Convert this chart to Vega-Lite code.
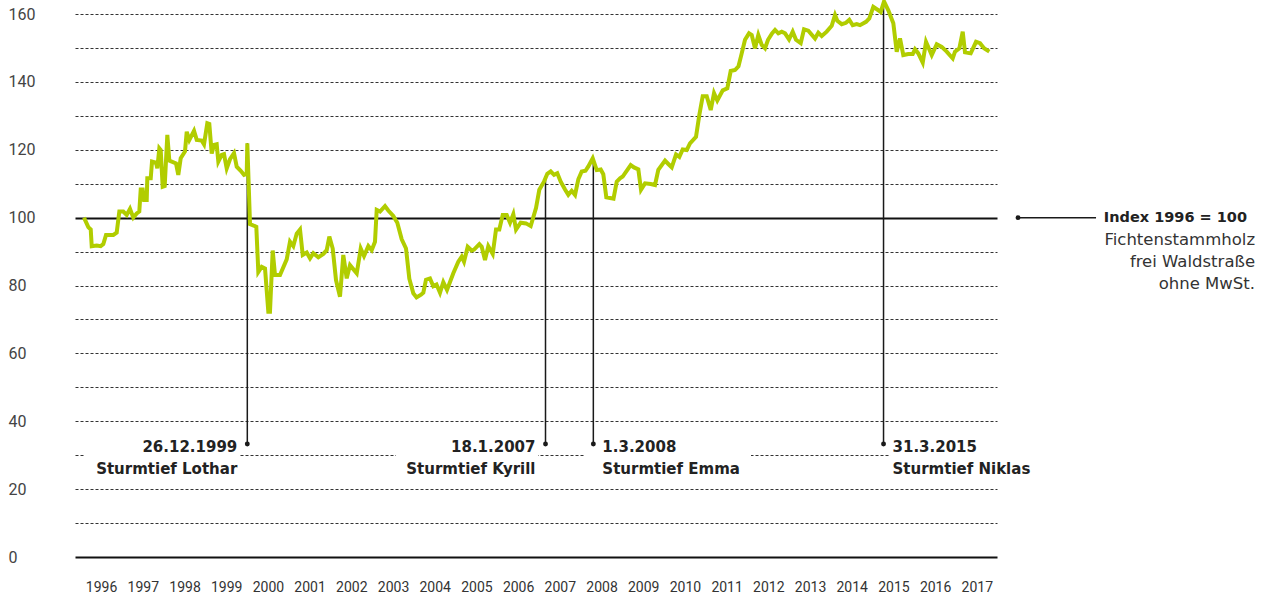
{
  "$schema": "https://vega.github.io/schema/vega-lite/v6.json",
  "width": 922,
  "height": 543,
  "autosize": {"type": "none"},
  "padding": {"left": 75, "top": 14, "right": 267, "bottom": 41},
  "background": "white",
  "config": {
    "view": {"stroke": null},
    "axisX": {"title": null, "domain": false, "ticks": false, "grid": false, "labelFont": "Roboto", "labelFontSize": 14, "labelColor": "#333", "labelPadding": 30, "labelBaseline": "middle", "labelOverlap": false, "labelFlush": false},
    "axisY": {"title": null, "domain": false, "ticks": false, "labelAlign": "left", "labelPadding": 67, "labelBaseline": "middle", "labelFont": "Roboto", "labelFontSize": 16, "labelColor": "#444", "labelOverlap": false, "grid": true}
  },
  "datasets": {
    "index": [
      {"t": 1996.000, "v": 100}, {"t": 1996.103, "v": 97.2}, {"t": 1996.161, "v": 96.5}, {"t": 1996.185, "v": 91.6},
      {"t": 1996.305, "v": 91.8}, {"t": 1996.400, "v": 91.6}, {"t": 1996.463, "v": 92.2}, {"t": 1996.528, "v": 94.9},
      {"t": 1996.703, "v": 94.9}, {"t": 1996.784, "v": 95.6}, {"t": 1996.847, "v": 101.8}, {"t": 1996.942, "v": 101.8},
      {"t": 1997.024, "v": 100.8}, {"t": 1997.103, "v": 102.6}, {"t": 1997.182, "v": 100}, {"t": 1997.264, "v": 101.2},
      {"t": 1997.326, "v": 101.8}, {"t": 1997.360, "v": 108.3}, {"t": 1997.408, "v": 108.3}, {"t": 1997.439, "v": 105.2},
      {"t": 1997.504, "v": 105.2}, {"t": 1997.518, "v": 111.6}, {"t": 1997.600, "v": 111.6}, {"t": 1997.631, "v": 116.5},
      {"t": 1997.727, "v": 116.2}, {"t": 1997.758, "v": 114.5}, {"t": 1997.806, "v": 120.4}, {"t": 1997.839, "v": 119.9},
      {"t": 1997.887, "v": 109.1}, {"t": 1997.935, "v": 109.3}, {"t": 1997.998, "v": 124.4}, {"t": 1998.046, "v": 116.8},
      {"t": 1998.206, "v": 116}, {"t": 1998.261, "v": 112.6}, {"t": 1998.319, "v": 117.5}, {"t": 1998.422, "v": 119.5},
      {"t": 1998.463, "v": 125.3}, {"t": 1998.525, "v": 122.9}, {"t": 1998.638, "v": 125.6}, {"t": 1998.703, "v": 122.9},
      {"t": 1998.823, "v": 122.7}, {"t": 1998.878, "v": 121.6}, {"t": 1998.957, "v": 127.8}, {"t": 1999.005, "v": 127.6},
      {"t": 1999.062, "v": 118.9}, {"t": 1999.118, "v": 121.4}, {"t": 1999.182, "v": 121.6}, {"t": 1999.221, "v": 116.5},
      {"t": 1999.302, "v": 118.5}, {"t": 1999.357, "v": 118.7}, {"t": 1999.422, "v": 114.5}, {"t": 1999.501, "v": 117.2},
      {"t": 1999.597, "v": 119}, {"t": 1999.662, "v": 115}, {"t": 1999.758, "v": 113.8}, {"t": 1999.837, "v": 112.6},
      {"t": 1999.902, "v": 112.9}, {"t": 1999.916, "v": 121.9}, {"t": 1999.981, "v": 98.1}, {"t": 2000.132, "v": 97.3},
      {"t": 2000.180, "v": 84}, {"t": 2000.261, "v": 85.5}, {"t": 2000.341, "v": 85}, {"t": 2000.420, "v": 72.3},
      {"t": 2000.460, "v": 72.3}, {"t": 2000.525, "v": 90.3}, {"t": 2000.580, "v": 83.1}, {"t": 2000.700, "v": 83.1},
      {"t": 2000.861, "v": 87.7}, {"t": 2000.940, "v": 92.9}, {"t": 2001.019, "v": 91.6}, {"t": 2001.101, "v": 95.3},
      {"t": 2001.180, "v": 96.5}, {"t": 2001.245, "v": 89}, {"t": 2001.341, "v": 89.7}, {"t": 2001.420, "v": 88},
      {"t": 2001.499, "v": 89.5}, {"t": 2001.619, "v": 88.3}, {"t": 2001.739, "v": 89.3}, {"t": 2001.820, "v": 90.4},
      {"t": 2001.883, "v": 94.4}, {"t": 2001.964, "v": 90.9}, {"t": 2002.043, "v": 81.6}, {"t": 2002.139, "v": 76.7},
      {"t": 2002.218, "v": 89}, {"t": 2002.300, "v": 82.1}, {"t": 2002.379, "v": 86}, {"t": 2002.540, "v": 83.6},
      {"t": 2002.636, "v": 90.9}, {"t": 2002.715, "v": 88.7}, {"t": 2002.818, "v": 91.6}, {"t": 2002.899, "v": 90.4},
      {"t": 2002.978, "v": 92.9}, {"t": 2003.019, "v": 102.3}, {"t": 2003.098, "v": 101.8}, {"t": 2003.218, "v": 103.4},
      {"t": 2003.297, "v": 102.1}, {"t": 2003.417, "v": 100.5}, {"t": 2003.513, "v": 98.5}, {"t": 2003.619, "v": 93.6},
      {"t": 2003.722, "v": 90.9}, {"t": 2003.801, "v": 82}, {"t": 2003.897, "v": 77.7}, {"t": 2003.974, "v": 76.5},
      {"t": 2004.082, "v": 77.3}, {"t": 2004.137, "v": 77.9}, {"t": 2004.201, "v": 81.7}, {"t": 2004.297, "v": 82.1},
      {"t": 2004.376, "v": 79.8}, {"t": 2004.453, "v": 80.3}, {"t": 2004.537, "v": 77.9}, {"t": 2004.616, "v": 81},
      {"t": 2004.705, "v": 78.7}, {"t": 2004.856, "v": 83.6}, {"t": 2004.976, "v": 87}, {"t": 2005.058, "v": 88.5},
      {"t": 2005.113, "v": 87}, {"t": 2005.201, "v": 91.4}, {"t": 2005.297, "v": 90.3}, {"t": 2005.353, "v": 90.6},
      {"t": 2005.480, "v": 92.2}, {"t": 2005.537, "v": 91.4}, {"t": 2005.616, "v": 87.5}, {"t": 2005.695, "v": 91.6},
      {"t": 2005.801, "v": 89.3}, {"t": 2005.880, "v": 96.5}, {"t": 2005.959, "v": 96.5}, {"t": 2006.041, "v": 100.8},
      {"t": 2006.137, "v": 100.8}, {"t": 2006.216, "v": 98.5}, {"t": 2006.295, "v": 101}, {"t": 2006.360, "v": 96.5},
      {"t": 2006.472, "v": 98.5}, {"t": 2006.600, "v": 98.3}, {"t": 2006.712, "v": 97.5}, {"t": 2006.839, "v": 102.8},
      {"t": 2006.918, "v": 108.2}, {"t": 2007.031, "v": 110.6}, {"t": 2007.110, "v": 112.9}, {"t": 2007.192, "v": 113.6},
      {"t": 2007.271, "v": 112.6}, {"t": 2007.350, "v": 113.1}, {"t": 2007.432, "v": 110.6}, {"t": 2007.535, "v": 108.3},
      {"t": 2007.614, "v": 106.7}, {"t": 2007.695, "v": 107.9}, {"t": 2007.775, "v": 106.7}, {"t": 2007.854, "v": 111.3},
      {"t": 2007.935, "v": 113.6}, {"t": 2008.026, "v": 113.8}, {"t": 2008.094, "v": 115.1}, {"t": 2008.199, "v": 117.5},
      {"t": 2008.295, "v": 114}, {"t": 2008.391, "v": 114.2}, {"t": 2008.453, "v": 112.8}, {"t": 2008.525, "v": 106},
      {"t": 2008.614, "v": 105.8}, {"t": 2008.698, "v": 105.6}, {"t": 2008.775, "v": 110.6}, {"t": 2008.854, "v": 111.6},
      {"t": 2008.918, "v": 112.1}, {"t": 2009.110, "v": 115.5}, {"t": 2009.189, "v": 114.8}, {"t": 2009.293, "v": 114.2},
      {"t": 2009.357, "v": 108.2}, {"t": 2009.453, "v": 110.1}, {"t": 2009.590, "v": 109.9}, {"t": 2009.693, "v": 109.6},
      {"t": 2009.772, "v": 114.1}, {"t": 2009.933, "v": 116.8}, {"t": 2010.012, "v": 115.8}, {"t": 2010.094, "v": 114.8},
      {"t": 2010.197, "v": 118.6}, {"t": 2010.276, "v": 117.9}, {"t": 2010.357, "v": 120.1}, {"t": 2010.453, "v": 119.9},
      {"t": 2010.532, "v": 121.9}, {"t": 2010.676, "v": 123.8}, {"t": 2010.755, "v": 130.2}, {"t": 2010.837, "v": 135.8},
      {"t": 2010.933, "v": 135.8}, {"t": 2011.029, "v": 131.7}, {"t": 2011.108, "v": 136.7}, {"t": 2011.187, "v": 134.5},
      {"t": 2011.317, "v": 137.5}, {"t": 2011.427, "v": 138.1}, {"t": 2011.508, "v": 143.2}, {"t": 2011.612, "v": 143.5},
      {"t": 2011.695, "v": 144.6}, {"t": 2011.772, "v": 148.4}, {"t": 2011.851, "v": 152.4}, {"t": 2011.947, "v": 154.3},
      {"t": 2012.012, "v": 153.8}, {"t": 2012.091, "v": 149.9}, {"t": 2012.170, "v": 153.8}, {"t": 2012.252, "v": 150.9},
      {"t": 2012.331, "v": 149.9}, {"t": 2012.403, "v": 152.4}, {"t": 2012.499, "v": 154.3}, {"t": 2012.571, "v": 155.3},
      {"t": 2012.650, "v": 154.3}, {"t": 2012.732, "v": 154.8}, {"t": 2012.811, "v": 154.3}, {"t": 2012.907, "v": 152.5},
      {"t": 2012.995, "v": 154.8}, {"t": 2013.074, "v": 152.4}, {"t": 2013.187, "v": 151.4}, {"t": 2013.266, "v": 155.5},
      {"t": 2013.369, "v": 155.1}, {"t": 2013.530, "v": 152.8}, {"t": 2013.609, "v": 154.5}, {"t": 2013.691, "v": 153.5},
      {"t": 2013.810, "v": 154.8}, {"t": 2013.930, "v": 156.5}, {"t": 2014.010, "v": 159.7}, {"t": 2014.065, "v": 158},
      {"t": 2014.170, "v": 157}, {"t": 2014.273, "v": 157.4}, {"t": 2014.353, "v": 158.3}, {"t": 2014.434, "v": 156.7},
      {"t": 2014.530, "v": 157}, {"t": 2014.609, "v": 156.7}, {"t": 2014.753, "v": 157.7}, {"t": 2014.832, "v": 158.7},
      {"t": 2014.928, "v": 162.1}, {"t": 2015.048, "v": 161.1}, {"t": 2015.106, "v": 160.6}, {"t": 2015.185, "v": 163.7},
      {"t": 2015.288, "v": 161.1}, {"t": 2015.408, "v": 157.3}, {"t": 2015.489, "v": 148.9}, {"t": 2015.568, "v": 152.8},
      {"t": 2015.647, "v": 147.9}, {"t": 2015.767, "v": 148.2}, {"t": 2015.873, "v": 148.2}, {"t": 2015.928, "v": 149.6},
      {"t": 2016.007, "v": 148.4}, {"t": 2016.113, "v": 145.7}, {"t": 2016.192, "v": 151.8}, {"t": 2016.329, "v": 147.9},
      {"t": 2016.449, "v": 151.1}, {"t": 2016.568, "v": 150.3}, {"t": 2016.688, "v": 148.9}, {"t": 2016.832, "v": 146.9},
      {"t": 2016.887, "v": 148.9}, {"t": 2016.991, "v": 149.9}, {"t": 2017.072, "v": 154.8}, {"t": 2017.127, "v": 148.7},
      {"t": 2017.264, "v": 148.4}, {"t": 2017.391, "v": 151.8}, {"t": 2017.487, "v": 151.4}, {"t": 2017.583, "v": 149.9},
      {"t": 2017.710, "v": 148.9}
    ],
    "events": [
      {"t": 1999.916, "top": 121.9, "date": "26.12.1999", "name": "Sturmtief Lothar"},
      {"t": 2007.067, "top": 111.6, "date": "18.1.2007", "name": "Sturmtief Kyrill"},
      {"t": 2008.214, "top": 117.0, "date": "1.3.2008", "name": "Sturmtief Emma"},
      {"t": 2015.173, "top": 163.2, "date": "31.3.2015", "name": "Sturmtief Niklas"}
    ],
    "masks": [
      {"t": 1996.0, "t2": 1999.717},
      {"t": 2003.482, "t2": 2006.887},
      {"t": 2008.014, "t2": 2011.995},
      {"t": 2015.329, "t2": 2018.0}
    ]
  },
  "layer": [
    {
      "data": {"name": "index"},
      "mark": {"type": "line", "color": "#b1cd00", "strokeWidth": 4, "clip": false, "opacity": 0},
      "encoding": {
        "x": {"field": "t", "type": "quantitative", "title": null,
          "scale": {"domain": [1995.784, 2017.894], "nice": false, "zero": false},
          "axis": {"values": [1996.41, 1997.41, 1998.41, 1999.41, 2000.41, 2001.41, 2002.41, 2003.41, 2004.41, 2005.41, 2006.41, 2007.41, 2008.41, 2009.41, 2010.41, 2011.41, 2012.41, 2013.41, 2014.41, 2015.41, 2016.41, 2017.41], "labelExpr": "'' + floor(datum.value)"}},
        "y": {"field": "v", "type": "quantitative", "title": null,
          "scale": {"domain": [0, 160], "nice": false, "zero": true},
          "axis": {"values": [0, 10, 20, 30, 40, 50, 60, 70, 80, 90, 100, 110, 120, 130, 140, 150, 160], "labelExpr": "datum.value % 20 === 0 ? datum.label : ''",
            "gridColor": {"condition": {"test": "datum.value % 100 === 0", "value": "#111"}, "value": "#333"},
            "gridWidth": {"condition": {"test": "datum.value % 100 === 0", "value": 1.8}, "value": 1},
            "gridDash": {"condition": {"test": "datum.value % 100 === 0", "value": []}, "value": [3, 2]}}}
      }
    },
    {
      "data": {"name": "masks"},
      "mark": {"type": "rect", "color": "white"},
      "encoding": {
        "x": {"field": "t", "type": "quantitative", "title": null,
          "axis": {"values": [1996.41, 1997.41, 1998.41, 1999.41, 2000.41, 2001.41, 2002.41, 2003.41, 2004.41, 2005.41, 2006.41, 2007.41, 2008.41, 2009.41, 2010.41, 2011.41, 2012.41, 2013.41, 2014.41, 2015.41, 2016.41, 2017.41], "labelExpr": "'' + floor(datum.value)"}},
        "x2": {"field": "t2"},
        "y": {"datum": 28.5, "type": "quantitative", "title": null,
          "axis": {"values": [0, 10, 20, 30, 40, 50, 60, 70, 80, 90, 100, 110, 120, 130, 140, 150, 160], "labelExpr": "datum.value % 20 === 0 ? datum.label : ''",
            "gridColor": {"condition": {"test": "datum.value % 100 === 0", "value": "#111"}, "value": "#333"},
            "gridWidth": {"condition": {"test": "datum.value % 100 === 0", "value": 1.8}, "value": 1},
            "gridDash": {"condition": {"test": "datum.value % 100 === 0", "value": []}, "value": [3, 2]}}},
        "y2": {"datum": 31.5}
      }
    },
    {
      "data": {"name": "events"},
      "mark": {"type": "rule", "color": "#1a1a1a", "strokeWidth": 1.5},
      "encoding": {
        "x": {"field": "t", "type": "quantitative", "title": null,
          "axis": {"values": [1996.41, 1997.41, 1998.41, 1999.41, 2000.41, 2001.41, 2002.41, 2003.41, 2004.41, 2005.41, 2006.41, 2007.41, 2008.41, 2009.41, 2010.41, 2011.41, 2012.41, 2013.41, 2014.41, 2015.41, 2016.41, 2017.41], "labelExpr": "'' + floor(datum.value)"}},
        "y": {"field": "top", "type": "quantitative", "title": null,
          "axis": {"values": [0, 10, 20, 30, 40, 50, 60, 70, 80, 90, 100, 110, 120, 130, 140, 150, 160], "labelExpr": "datum.value % 20 === 0 ? datum.label : ''",
            "gridColor": {"condition": {"test": "datum.value % 100 === 0", "value": "#111"}, "value": "#333"},
            "gridWidth": {"condition": {"test": "datum.value % 100 === 0", "value": 1.8}, "value": 1},
            "gridDash": {"condition": {"test": "datum.value % 100 === 0", "value": []}, "value": [3, 2]}}},
        "y2": {"datum": 33.3}
      }
    },
    {
      "data": {"name": "index"},
      "mark": {"type": "line", "color": "#b1cd00", "strokeWidth": 4, "clip": false},
      "encoding": {
        "x": {"field": "t", "type": "quantitative", "title": null,
          "axis": {"values": [1996.41, 1997.41, 1998.41, 1999.41, 2000.41, 2001.41, 2002.41, 2003.41, 2004.41, 2005.41, 2006.41, 2007.41, 2008.41, 2009.41, 2010.41, 2011.41, 2012.41, 2013.41, 2014.41, 2015.41, 2016.41, 2017.41], "labelExpr": "'' + floor(datum.value)"}},
        "y": {"field": "v", "type": "quantitative", "title": null,
          "axis": {"values": [0, 10, 20, 30, 40, 50, 60, 70, 80, 90, 100, 110, 120, 130, 140, 150, 160], "labelExpr": "datum.value % 20 === 0 ? datum.label : ''",
            "gridColor": {"condition": {"test": "datum.value % 100 === 0", "value": "#111"}, "value": "#333"},
            "gridWidth": {"condition": {"test": "datum.value % 100 === 0", "value": 1.8}, "value": 1},
            "gridDash": {"condition": {"test": "datum.value % 100 === 0", "value": []}, "value": [3, 2]}}}
      }
    },
    {
      "data": {"name": "events"},
      "mark": {"type": "point", "filled": true, "color": "#1a1a1a", "size": 24, "opacity": 1},
      "encoding": {
        "x": {"field": "t", "type": "quantitative", "title": null,
          "axis": {"values": [1996.41, 1997.41, 1998.41, 1999.41, 2000.41, 2001.41, 2002.41, 2003.41, 2004.41, 2005.41, 2006.41, 2007.41, 2008.41, 2009.41, 2010.41, 2011.41, 2012.41, 2013.41, 2014.41, 2015.41, 2016.41, 2017.41], "labelExpr": "'' + floor(datum.value)"}},
        "y": {"datum": 33.3, "type": "quantitative", "title": null,
          "axis": {"values": [0, 10, 20, 30, 40, 50, 60, 70, 80, 90, 100, 110, 120, 130, 140, 150, 160], "labelExpr": "datum.value % 20 === 0 ? datum.label : ''",
            "gridColor": {"condition": {"test": "datum.value % 100 === 0", "value": "#111"}, "value": "#333"},
            "gridWidth": {"condition": {"test": "datum.value % 100 === 0", "value": 1.8}, "value": 1},
            "gridDash": {"condition": {"test": "datum.value % 100 === 0", "value": []}, "value": [3, 2]}}}
      }
    },
    {
      "data": {"name": "events"},
      "transform": [{"filter": "datum.t < 2008"}],
      "layer": [
        {"mark": {"type": "text", "align": "right", "baseline": "alphabetic", "dx": -10, "dy": 8, "font": "DejaVu Sans", "fontWeight": "bold", "fontSize": 15, "color": "#222"},
         "encoding": {"text": {"field": "date", "type": "nominal"}}},
        {"mark": {"type": "text", "align": "right", "baseline": "alphabetic", "dx": -10, "dy": 30, "font": "DejaVu Sans", "fontWeight": "bold", "fontSize": 15, "color": "#222"},
         "encoding": {"text": {"field": "name", "type": "nominal"}}}
      ],
      "encoding": {
        "x": {"field": "t", "type": "quantitative", "title": null,
          "axis": {"values": [1996.41, 1997.41, 1998.41, 1999.41, 2000.41, 2001.41, 2002.41, 2003.41, 2004.41, 2005.41, 2006.41, 2007.41, 2008.41, 2009.41, 2010.41, 2011.41, 2012.41, 2013.41, 2014.41, 2015.41, 2016.41, 2017.41], "labelExpr": "'' + floor(datum.value)"}},
        "y": {"datum": 33.3, "type": "quantitative", "title": null,
          "axis": {"values": [0, 10, 20, 30, 40, 50, 60, 70, 80, 90, 100, 110, 120, 130, 140, 150, 160], "labelExpr": "datum.value % 20 === 0 ? datum.label : ''",
            "gridColor": {"condition": {"test": "datum.value % 100 === 0", "value": "#111"}, "value": "#333"},
            "gridWidth": {"condition": {"test": "datum.value % 100 === 0", "value": 1.8}, "value": 1},
            "gridDash": {"condition": {"test": "datum.value % 100 === 0", "value": []}, "value": [3, 2]}}}
      }
    },
    {
      "data": {"name": "events"},
      "transform": [{"filter": "datum.t > 2008"}],
      "layer": [
        {"mark": {"type": "text", "align": "left", "baseline": "alphabetic", "dx": 9, "dy": 8, "font": "DejaVu Sans", "fontWeight": "bold", "fontSize": 15, "color": "#222"},
         "encoding": {"text": {"field": "date", "type": "nominal"}}},
        {"mark": {"type": "text", "align": "left", "baseline": "alphabetic", "dx": 9, "dy": 30, "font": "DejaVu Sans", "fontWeight": "bold", "fontSize": 15, "color": "#222"},
         "encoding": {"text": {"field": "name", "type": "nominal"}}}
      ],
      "encoding": {
        "x": {"field": "t", "type": "quantitative", "title": null,
          "axis": {"values": [1996.41, 1997.41, 1998.41, 1999.41, 2000.41, 2001.41, 2002.41, 2003.41, 2004.41, 2005.41, 2006.41, 2007.41, 2008.41, 2009.41, 2010.41, 2011.41, 2012.41, 2013.41, 2014.41, 2015.41, 2016.41, 2017.41], "labelExpr": "'' + floor(datum.value)"}},
        "y": {"datum": 33.3, "type": "quantitative", "title": null,
          "axis": {"values": [0, 10, 20, 30, 40, 50, 60, 70, 80, 90, 100, 110, 120, 130, 140, 150, 160], "labelExpr": "datum.value % 20 === 0 ? datum.label : ''",
            "gridColor": {"condition": {"test": "datum.value % 100 === 0", "value": "#111"}, "value": "#333"},
            "gridWidth": {"condition": {"test": "datum.value % 100 === 0", "value": 1.8}, "value": 1},
            "gridDash": {"condition": {"test": "datum.value % 100 === 0", "value": []}, "value": [3, 2]}}}
      }
    },
    {
      "data": {"values": [{}]},
      "layer": [
        {"mark": {"type": "rule", "color": "#1a1a1a", "strokeWidth": 1.5, "clip": false},
         "encoding": {"x2": {"datum": 2020.269}}},
        {"mark": {"type": "point", "filled": true, "color": "#1a1a1a", "size": 24, "opacity": 1, "clip": false}}
      ],
      "encoding": {
        "x": {"datum": 2018.398, "type": "quantitative", "title": null,
          "axis": {"values": [1996.41, 1997.41, 1998.41, 1999.41, 2000.41, 2001.41, 2002.41, 2003.41, 2004.41, 2005.41, 2006.41, 2007.41, 2008.41, 2009.41, 2010.41, 2011.41, 2012.41, 2013.41, 2014.41, 2015.41, 2016.41, 2017.41], "labelExpr": "'' + floor(datum.value)"}},
        "y": {"datum": 100, "type": "quantitative", "title": null,
          "axis": {"values": [0, 10, 20, 30, 40, 50, 60, 70, 80, 90, 100, 110, 120, 130, 140, 150, 160], "labelExpr": "datum.value % 20 === 0 ? datum.label : ''",
            "gridColor": {"condition": {"test": "datum.value % 100 === 0", "value": "#111"}, "value": "#333"},
            "gridWidth": {"condition": {"test": "datum.value % 100 === 0", "value": 1.8}, "value": 1},
            "gridDash": {"condition": {"test": "datum.value % 100 === 0", "value": []}, "value": [3, 2]}}}
      }
    },
    {
      "data": {"values": [{}]},
      "layer": [
        {"mark": {"type": "text", "align": "right", "baseline": "middle", "dx": -8, "font": "DejaVu Sans", "fontWeight": "bold", "fontSize": 14.5, "color": "#222", "text": "Index 1996 = 100"}},
        {"mark": {"type": "text", "align": "right", "baseline": "middle", "dy": 22, "font": "DejaVu Sans", "fontSize": 16.5, "color": "#333", "text": "Fichtenstammholz"}},
        {"mark": {"type": "text", "align": "right", "baseline": "middle", "dy": 44.5, "font": "DejaVu Sans", "fontSize": 16.5, "color": "#333", "text": "frei Waldstraße"}},
        {"mark": {"type": "text", "align": "right", "baseline": "middle", "dy": 66.5, "font": "DejaVu Sans", "fontSize": 16.5, "color": "#333", "text": "ohne MwSt."}}
      ],
      "encoding": {
        "x": {"datum": 2024.082, "type": "quantitative", "title": null,
          "axis": {"values": [1996.41, 1997.41, 1998.41, 1999.41, 2000.41, 2001.41, 2002.41, 2003.41, 2004.41, 2005.41, 2006.41, 2007.41, 2008.41, 2009.41, 2010.41, 2011.41, 2012.41, 2013.41, 2014.41, 2015.41, 2016.41, 2017.41], "labelExpr": "'' + floor(datum.value)"}},
        "y": {"datum": 100, "type": "quantitative", "title": null,
          "axis": {"values": [0, 10, 20, 30, 40, 50, 60, 70, 80, 90, 100, 110, 120, 130, 140, 150, 160], "labelExpr": "datum.value % 20 === 0 ? datum.label : ''",
            "gridColor": {"condition": {"test": "datum.value % 100 === 0", "value": "#111"}, "value": "#333"},
            "gridWidth": {"condition": {"test": "datum.value % 100 === 0", "value": 1.8}, "value": 1},
            "gridDash": {"condition": {"test": "datum.value % 100 === 0", "value": []}, "value": [3, 2]}}}
      }
    }
  ]
}
